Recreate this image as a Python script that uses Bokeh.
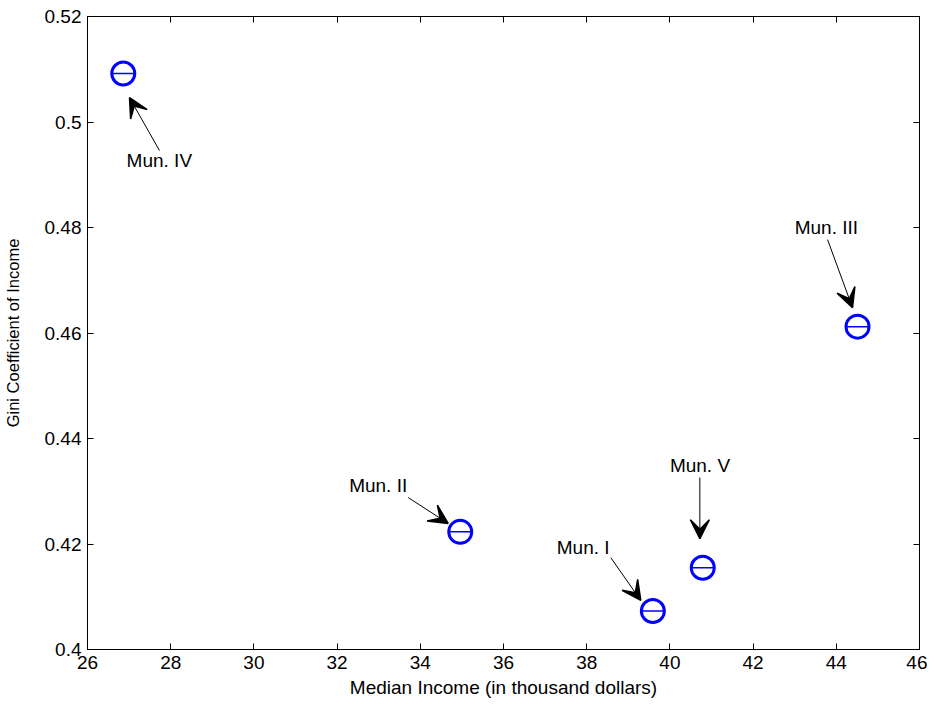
from bokeh.plotting import figure
from bokeh.models import (ColumnDataSource, LinearAxis, FixedTicker, CustomJSTickFormatter,
                          Arrow, VeeHead, LabelSet, Range1d)
from bokeh.core.properties import value
from bokeh.embed import file_html
from bokeh.resources import INLINE

# Data
names = ["Mun. I", "Mun. II", "Mun. III", "Mun. IV", "Mun. V"]
median_income = [39.59, 34.96, 44.51, 26.86, 40.79]
gini = [0.4073, 0.4223, 0.4612, 0.5092, 0.4155]

# annotation placement (data units): label anchor, arrow tail, arrow tip
label_x = [37.28, 32.29, 43.00, 26.94, 40.00]
label_y = [0.4193, 0.4311, 0.4800, 0.4927, 0.4349]
tail_x = [38.58, 33.71, 43.79, 27.73, 40.72]
tail_y = [0.4174, 0.4288, 0.4777, 0.4946, 0.4326]
tip_x = [39.30, 34.67, 44.39, 27.01, 40.72]
tip_y = [0.4093, 0.4239, 0.4648, 0.5046, 0.4210]

x_ticks = [26, 28, 30, 32, 34, 36, 38, 40, 42, 44, 46]
y_ticks = [0.40, 0.42, 0.44, 0.46, 0.48, 0.50, 0.52]

FONT = "Liberation Sans"

p = figure(width=927, height=704, output_backend="svg", toolbar_location=None,
           x_range=Range1d(26, 46), y_range=Range1d(0.40, 0.52),
           min_border_left=86, min_border_right=8, min_border_top=16, min_border_bottom=55,
           x_axis_label="Median Income (in thousand dollars)",
           y_axis_label="Gini Coefficient of Income")
p.grid.visible = False
p.outline_line_color = "black"
p.outline_line_width = 1
p.background_fill_color = "white"
p.border_fill_color = "white"

yfmt = CustomJSTickFormatter(code="return String(Math.round(tick*100)/100);")
blank = CustomJSTickFormatter(code="return '';")

def style(ax):
    ax.major_tick_in = 6
    ax.major_tick_out = 0
    ax.minor_tick_line_color = None
    ax.axis_line_color = "black"
    ax.major_tick_line_color = "black"
    ax.major_label_text_font = FONT
    ax.major_label_text_font_size = "19px"
    ax.major_label_text_color = "black"
    ax.axis_label_text_font = FONT
    ax.axis_label_text_font_size = "19px"
    ax.axis_label_text_font_style = "normal"
    ax.axis_label_text_color = "black"

p.xaxis.ticker = FixedTicker(ticks=x_ticks)
p.yaxis.ticker = FixedTicker(ticks=y_ticks)
p.yaxis.formatter = yfmt
for ax in p.xaxis + p.yaxis:
    style(ax)
p.xaxis.major_label_standoff = 6
p.yaxis.major_label_standoff = 6
p.xaxis.axis_label_standoff = 5
p.yaxis.axis_label_standoff = 20
p.yaxis.axis_label_text_font_size = "16.5px"

top = LinearAxis(ticker=FixedTicker(ticks=x_ticks), formatter=blank)
style(top)
top.major_label_standoff = 0
right = LinearAxis(ticker=FixedTicker(ticks=y_ticks), formatter=blank)
style(right)
right.major_label_standoff = 0
p.add_layout(top, "above")
p.add_layout(right, "right")

src = ColumnDataSource(dict(x=median_income, y=gini))
p.scatter("x", "y", source=src, marker="circle", size=23, line_width=3,
          line_color="#0000ff", fill_color=None)
p.scatter("x", "y", source=src, marker="dash", size=23, line_width=1.5,
          line_color="#0000ff")

asrc = ColumnDataSource(dict(x0=tail_x, y0=tail_y, x1=tip_x, y1=tip_y))
p.add_layout(Arrow(end=VeeHead(size=19, fill_color="black", line_color="black", line_width=1.5),
                   x_start="x0", y_start="y0", x_end="x1", y_end="y1",
                   line_color="black", line_width=1, source=asrc))

lsrc = ColumnDataSource(dict(x=label_x, y=label_y, t=names))
p.add_layout(LabelSet(x="x", y="y", text="t", source=lsrc, text_font=value(FONT),
                      text_font_size="19px", text_color="black",
                      text_baseline="middle", text_align="left"))

open("out.html", "w").write(file_html(p, INLINE))
